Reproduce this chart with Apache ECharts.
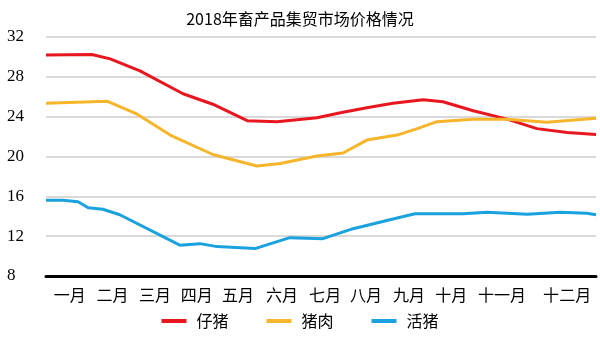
<!DOCTYPE html>
<html>
<head>
<meta charset="utf-8">
<script src="https://cdn.jsdelivr.net/npm/echarts@6/dist/echarts.min.js"></script>
<style>html,body{margin:0;padding:0;background:#fff;}#c{width:600px;height:342px;}</style>
</head>
<body>
<div id="c"></div>
<script>
// x positions are in months along the year (0 = start, 12 = end)
var monthLabels = ['一月','二月','三月','四月','五月','六月','七月','八月','九月','十月','十一月','十二月'];
var monthLabelPos = [0.52, 1.45, 2.38, 3.29, 4.19, 5.15, 6.09, 6.98, 7.92, 8.84, 9.95, 11.37];
var yTicks = [8, 12, 16, 20, 24, 28, 32];
var seriesNames = ['仔猪', '猪肉', '活猪'];

var piglet = [[0,30.2],[1.0,30.25],[1.40,29.8],[2.05,28.6],[2.99,26.3],[3.64,25.25],[4.39,23.6],[5.04,23.5],[5.91,23.9],[6.48,24.45],[7.0,24.9],[7.57,25.35],[8.23,25.7],[8.66,25.5],[9.32,24.6],[10.06,23.75],[10.71,22.8],[11.37,22.4],[12,22.2]];
var pork = [[0,25.35],[1.33,25.55],[1.99,24.25],[2.71,22.15],[3.64,20.2],[4.60,19.05],[5.11,19.3],[5.91,20.05],[6.48,20.35],[7.0,21.65],[7.66,22.15],[8.10,22.8],[8.53,23.5],[9.32,23.75],[10.06,23.75],[10.93,23.45],[12,23.85]];
var hog = [[0,15.6],[0.37,15.6],[0.70,15.45],[0.92,14.85],[1.24,14.7],[1.61,14.15],[2.92,11.1],[3.36,11.25],[3.73,10.95],[4.56,10.75],[5.32,11.85],[6.04,11.75],[6.70,12.75],[7.73,13.9],[8.05,14.25],[9.10,14.25],[9.62,14.4],[10.50,14.2],[11.22,14.4],[11.80,14.3],[12,14.15]];

var colors = ['#E8161E', '#F6B52A', '#1AA2DF'];
var chart = echarts.init(document.getElementById('c'), null, {renderer: 'canvas'});
chart.setOption({
  animation: false,
  color: colors,
  title: {
    text: '2018年畜产品集贸市场价格情况',
    left: 'center',
    top: 6,
    textStyle: {fontFamily: 'Noto Sans CJK SC', fontSize: 16, fontWeight: 'normal', color: '#000'}
  },
  legend: {
    data: seriesNames,
    bottom: 8,
    left: 'center',
    icon: 'rect',
    itemWidth: 25,
    itemHeight: 4,
    itemGap: 38,
    textStyle: {fontFamily: 'Noto Sans CJK SC', fontSize: 16, color: '#000', padding: [0, 0, 0, 5]}
  },
  grid: {left: 46, right: 4, top: 37, bottom: 66},
  xAxis: {
    type: 'value',
    min: 0,
    max: 12,
    axisLine: {show: true, lineStyle: {color: '#000', width: 3}},
    axisTick: {show: false},
    splitLine: {show: false},
    axisLabel: {
      customValues: monthLabelPos,
      margin: 11,
      fontFamily: 'Noto Sans CJK SC',
      fontSize: 16,
      color: '#000',
      formatter: function (v) {
        var best = 0, d = 1e9;
        for (var i = 0; i < monthLabelPos.length; i++) {
          var dd = Math.abs(monthLabelPos[i] - v);
          if (dd < d) { d = dd; best = i; }
        }
        return monthLabels[best];
      }
    }
  },
  yAxis: {
    type: 'value',
    min: yTicks[0],
    max: yTicks[yTicks.length - 1],
    interval: 4,
    axisLine: {show: false},
    axisTick: {show: false},
    splitLine: {show: true, lineStyle: {color: '#D9D9D9', width: 2}},
    axisLabel: {
      align: 'left',
      margin: 39,
      fontFamily: 'Liberation Serif',
      fontSize: 17,
      color: '#000'
    }
  },
  series: [
    {name: seriesNames[0], type: 'line', data: piglet, symbol: 'none', lineStyle: {width: 3, color: colors[0]}, z: 3},
    {name: seriesNames[1], type: 'line', data: pork, symbol: 'none', lineStyle: {width: 3, color: colors[1]}, z: 4},
    {name: seriesNames[2], type: 'line', data: hog, symbol: 'none', lineStyle: {width: 3, color: colors[2]}, z: 2}
  ]
});
</script>
</body>
</html>
